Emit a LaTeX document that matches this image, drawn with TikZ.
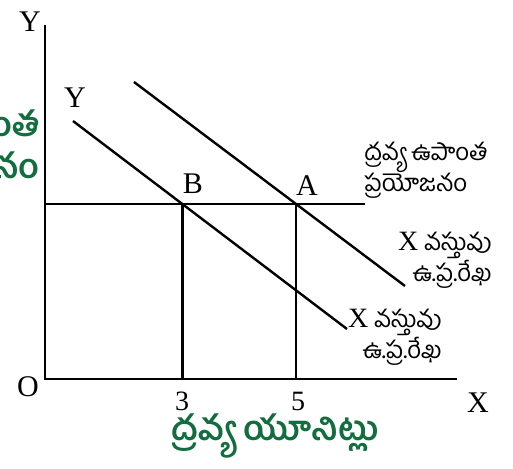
\documentclass[tikz,border=0pt]{standalone}
\usepackage{fontspec}
\setmainfont{Liberation Serif}
\newfontfamily\telugu[Script=Telugu]{Hind Guntur}
\usetikzlibrary{positioning,calc}
\definecolor{penGreen}{RGB}{18,110,62}

\begin{document}
\begin{tikzpicture}[
  x=0.5pt, y=-0.5pt,
  axis/.style={line width=1.2pt},
  demand/.style={line width=1.2pt},
  lbl/.style={font=\fontsize{15}{15}\selectfont, inner sep=0pt},
  num/.style={font=\fontsize{14}{14}\selectfont, inner sep=0pt},
  tel/.style={font=\fontsize{12}{15.5}\selectfont, inner sep=0pt},
  hand/.style={font=\fontsize{17}{21}\selectfont\telugu\bfseries,
    text=penGreen, inner sep=0pt},
]
  \useasboundingbox (0,0) rectangle (513,468);
  \clip (0,0) rectangle (513,468);

  % ── Axes ────────────────────────────────────────────────────────────────
  \coordinate (O)    at (45,379);
  \coordinate (Ytop) at (45,25);
  \coordinate (Xend) at (457,379);
  \draw[axis] (Ytop) -- (O) -- (Xend);

  \node[lbl] (ylab) at (30,22)  {Y};
  \node[lbl] (olab) at (28,387) {O};
  \node[lbl] (xlab) at (478,403) {X};

  % ── Marginal utility of money and the two demand lines ─────────────────
  \coordinate (mu0) at (45,204);
  \coordinate (mu1) at (365,204);
  \coordinate (dA0) at (134,82);
  \coordinate (dA1) at (405,286);
  \coordinate (dB0) at (73,121);
  \coordinate (dB1) at (347,329);
  \draw[axis]   (mu0) -- (mu1);
  \draw[demand] (dA0) -- (dA1);
  \draw[demand] (dB0) -- (dB1);

  \coordinate (B) at (intersection of dB0--dB1 and mu0--mu1);
  \coordinate (A) at (intersection of dA0--dA1 and mu0--mu1);
  \draw[axis] (B) -- (B |- O);
  \draw[axis] (A) -- (A |- O);

  \node[lbl] (blab)  at (193,184) {B};
  \node[lbl] (alab)  at (307,186) {A};
  \node[lbl] (y2lab) at (75,98)   {Y};
  \node[num] (three) at (182,401) {3};
  \node[num] (five)  at (298,401) {5};

  % ── Telugu captions ─────────────────────────────────────────────────────
  \node[tel, align=left, anchor=west] (mutxt) at (364,170)
      {\telugu ద్రవ్య ఉపాంత\\\telugu ప్రయోజనం};
  \node[tel, align=right, anchor=east] (dAtxt) at (492,260)
      {{\fontsize{14}{14}\selectfont X} \telugu వస్తువు\\\telugu ఉ.ప్ర.రేఖ};
  \node[tel, align=right, anchor=east] (dBtxt) at (442,337)
      {{\fontsize{14}{14}\selectfont X} \telugu వస్తువు\\\telugu ఉ.ప్ర.రేఖ};

  % ── Hand-written notes (green pen) ──────────────────────────────────────
  \node[hand, align=right, anchor=east] (penY) at (40,150)
      {ఉపాంత\\ప్రయోజనం};
  \node[hand] (penX) at (275,436) {ద్రవ్య యూనిట్లు};

\end{tikzpicture}
\end{document}
